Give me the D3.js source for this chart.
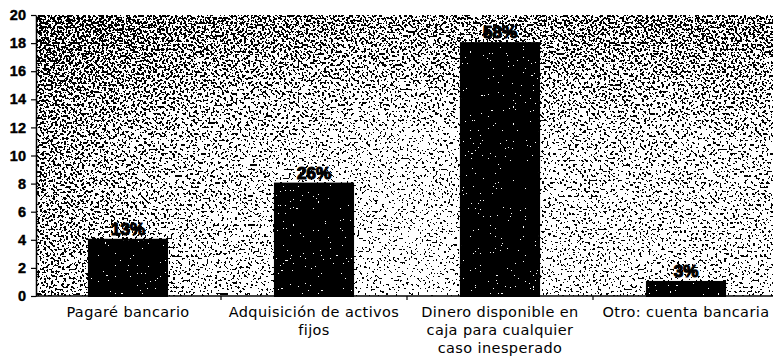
<!DOCTYPE html>
<html>
<head>
<meta charset="utf-8">
<script src="https://cdn.jsdelivr.net/npm/d3@7"></script>
<style>
  html, body { margin: 0; padding: 0; background: #fff; }
  svg { display: block; }
</style>
</head>
<body>
<svg id="chart" width="773" height="363"></svg>
<script>
// Categories (line breaks mark where each label wraps)
const categories = [
  "Pagaré bancario",
  "Adquisición de activos\nfijos",
  "Dinero disponible en\ncaja para cualquier\ncaso inesperado",
  "Otro: cuenta bancaria"
];
const counts = [4, 8, 18, 1];
const percentLabels = ["13%", "26%", "58%", "3%"];
const yTicks = [0, 2, 4, 6, 8, 10, 12, 14, 16, 18, 20];

const W = 773, H = 363;
const margin = { top: 15, right: 0, bottom: 67, left: 36 };

const svg = d3.select("#chart");
const defs = svg.append("defs");

// Stippled texture: a gray tone plus contrast-boosted noise, thresholded to black/white
function makeStipple(id, freq, seed, slope) {
  const f = defs.append("filter")
    .attr("id", id)
    .attr("filterUnits", "userSpaceOnUse")
    .attr("color-interpolation-filters", "sRGB");
  f.append("feTurbulence")
    .attr("type", "fractalNoise").attr("baseFrequency", freq)
    .attr("numOctaves", 1).attr("seed", seed).attr("result", "noise");
  f.append("feColorMatrix")
    .attr("in", "noise").attr("type", "matrix")
    .attr("values", "1 0 0 0 0  1 0 0 0 0  1 0 0 0 0  0 0 0 0 1")
    .attr("result", "gray");
  const boost = f.append("feComponentTransfer")
    .attr("in", "gray").attr("result", "boosted");
  ["R", "G", "B"].forEach(c => boost.append("feFunc" + c)
    .attr("type", "linear").attr("slope", slope).attr("intercept", 0.5 - slope / 2));
  f.append("feComposite")
    .attr("in", "SourceGraphic").attr("in2", "boosted")
    .attr("operator", "arithmetic")
    .attr("k1", 0).attr("k2", 1).attr("k3", 1).attr("k4", -0.5)
    .attr("result", "sum");
  const thr = f.append("feComponentTransfer").attr("in", "sum").attr("result", "bw");
  ["R", "G", "B"].forEach(c => thr.append("feFunc" + c)
    .attr("type", "discrete").attr("tableValues", "0 1"));
  thr.append("feFuncA").attr("type", "table").attr("tableValues", "1 1");
  f.append("feComposite").attr("in", "bw").attr("in2", "SourceAlpha").attr("operator", "in");
  return f;
}
makeStipple("stipple", 0.45, 7, 2);
makeStipple("barStipple", 0.6, 3, 2);

// Background tone: left side and top band a little darker
const hGrad = defs.append("linearGradient")
  .attr("id", "toneH").attr("x1", 0).attr("y1", 0).attr("x2", 1).attr("y2", 0);
hGrad.append("stop").attr("offset", 0).attr("stop-color", "#999");
hGrad.append("stop").attr("offset", 0.2).attr("stop-color", "#b4b4b4");
hGrad.append("stop").attr("offset", 0.5).attr("stop-color", "#cacaca");
hGrad.append("stop").attr("offset", 0.75).attr("stop-color", "#bdbdbd");
hGrad.append("stop").attr("offset", 1).attr("stop-color", "#b8b8b8");
const vGrad = defs.append("linearGradient")
  .attr("id", "toneV").attr("x1", 0).attr("y1", 0).attr("x2", 0).attr("y2", 1);
vGrad.append("stop").attr("offset", 0).attr("stop-color", "#000").attr("stop-opacity", 0.3);
vGrad.append("stop").attr("offset", 0.45).attr("stop-color", "#000").attr("stop-opacity", 0.06);
vGrad.append("stop").attr("offset", 1).attr("stop-color", "#000").attr("stop-opacity", 0);

const x = d3.scaleBand()
  .domain(d3.range(categories.length))
  .range([35, 779])
  .paddingInner(0.58)
  .paddingOuter(0.29);

const y = d3.scaleLinear()
  .domain([0, 20])
  .range([296, margin.top]);

// Plot area texture
const plotW = W - 36, plotH = y(0) - y(20);
const bg = svg.append("g").attr("filter", "url(#stipple)");
bg.append("rect")
  .attr("x", 36).attr("y", y(20)).attr("width", plotW).attr("height", plotH)
  .attr("fill", "url(#toneH)");
bg.append("rect")
  .attr("x", 36).attr("y", y(20)).attr("width", plotW).attr("height", plotH)
  .attr("fill", "url(#toneV)");

// Bars
const bars = svg.append("g");
bars.selectAll("rect.fill")
  .data(counts)
  .join("rect")
  .attr("class", "fill")
  .attr("x", (d, i) => x(i))
  .attr("y", d => y(d))
  .attr("width", x.bandwidth())
  .attr("height", d => y(0) - y(d))
  .attr("fill", "#0c0c0c")
  .attr("filter", "url(#barStipple)");
bars.selectAll("rect.edge")
  .data(counts)
  .join("rect")
  .attr("class", "edge")
  .attr("x", (d, i) => x(i))
  .attr("y", d => y(d))
  .attr("width", x.bandwidth())
  .attr("height", d => y(0) - y(d))
  .attr("fill", "none")
  .attr("stroke", "#000")
  .attr("stroke-width", 2);

// Percent labels above bars
svg.append("g").selectAll("text")
  .data(counts)
  .join("text")
  .attr("x", (d, i) => x(i) + x.bandwidth() / 2)
  .attr("y", d => y(d) - 5)
  .attr("text-anchor", "middle")
  .attr("font-family", "Liberation Sans Narrow, Liberation Sans, Arial, sans-serif")
  .attr("font-weight", "bold")
  .attr("font-size", 17)
  .attr("stroke", "#000")
  .attr("stroke-width", 1.2)
  .attr("stroke-linejoin", "round")
  .attr("fill", "#000")
  .text((d, i) => percentLabels[i]);

// Y axis
const yAxis = svg.append("g")
  .attr("transform", "translate(36,0)")
  .call(d3.axisLeft(y).tickValues(yTicks).tickSize(5).tickPadding(5).tickSizeOuter(0));
yAxis.select(".domain").attr("stroke", "#000").attr("stroke-width", 1.5);
yAxis.selectAll(".tick line").attr("stroke", "#000").attr("stroke-width", 1.2);
yAxis.selectAll(".tick text")
  .attr("font-family", "Liberation Sans, Arial, sans-serif")
  .attr("font-weight", "bold")
  .attr("font-size", 14.5)
  .attr("stroke", "#000")
  .attr("stroke-width", 0.4)
  .attr("fill", "#000");

// X axis baseline with boundary ticks between categories
const xAxis = svg.append("g");
xAxis.append("line")
  .attr("x1", 36).attr("x2", W)
  .attr("y1", y(0)).attr("y2", y(0))
  .attr("stroke", "#000").attr("stroke-width", 1.6);
xAxis.selectAll("line.tick")
  .data(d3.range(1, categories.length))
  .join("line")
  .attr("class", "tick")
  .attr("x1", i => x(i) - x.step() * x.paddingInner() / 2)
  .attr("x2", i => x(i) - x.step() * x.paddingInner() / 2)
  .attr("y1", y(0)).attr("y2", y(0) + 4)
  .attr("stroke", "#000").attr("stroke-width", 1.2);

// Category labels
const catLabels = svg.append("g").selectAll("text")
  .data(categories)
  .join("text")
  .attr("x", (d, i) => x(i) + x.bandwidth() / 2)
  .attr("y", 317)
  .attr("text-anchor", "middle")
  .attr("font-family", "DejaVu Sans, sans-serif")
  .attr("font-size", 14.5)
  .attr("letter-spacing", 0.4)
  .attr("fill", "#000");
catLabels.each(function(d) {
  const t = d3.select(this);
  d.split("\n").forEach((line, k) => {
    t.append("tspan")
      .attr("x", t.attr("x"))
      .attr("dy", k === 0 ? 0 : 18)
      .text(line);
  });
});
</script>
</body>
</html>
